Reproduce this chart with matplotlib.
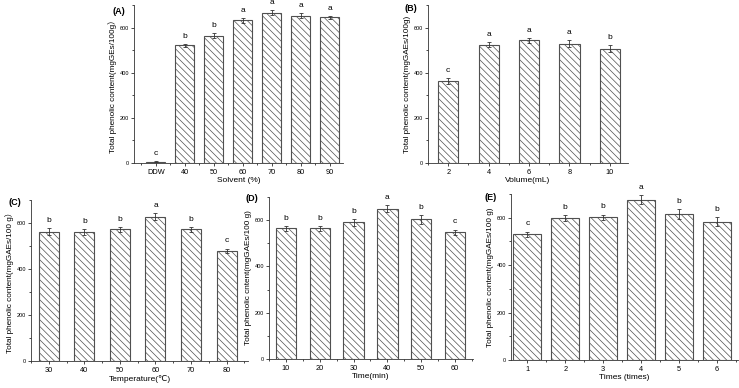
import numpy as np
import matplotlib
matplotlib.use("Agg")
import matplotlib.pyplot as plt
from matplotlib.ticker import MultipleLocator

plt.rcParams['font.family'] = ['Liberation Sans', 'DejaVu Sans', 'Noto Sans CJK SC']
plt.rcParams['hatch.linewidth'] = 0.5
plt.rcParams['hatch.color'] = '#555555'

# (A) solvent
a_labels = ['DDW', '40', '50', '60', '70', '80', '90']
a_vals = [5, 521, 564, 632, 666, 653, 645]
a_err = [2, 8, 12, 10, 10, 12, 8]
a_sig = ['c', 'b', 'b', 'a', 'a', 'a', 'a']

# (B) volume
b_x = [2, 4, 6, 8, 10]
b_vals = [363, 525, 543, 529, 507]
b_err = [12, 12, 10, 14, 14]
b_sig = ['c', 'a', 'a', 'a', 'b']

# (C) temperature
c_labels = ['30', '40', '50', '60', '70', '80']
c_vals = [561, 561, 572, 627, 572, 479]
c_err = [15, 12, 12, 15, 12, 10]
c_sig = ['b', 'b', 'b', 'a', 'b', 'c']

# (D) time
d_labels = ['10', '20', '30', '40', '50', '60']
d_vals = [564, 564, 590, 650, 603, 547]
d_err = [12, 10, 15, 15, 18, 12]
d_sig = ['b', 'b', 'b', 'a', 'b', 'c']

# (E) times
e_labels = ['1', '2', '3', '4', '5', '6']
e_vals = [529, 598, 601, 676, 615, 583]
e_err = [12, 12, 12, 20, 20, 18]
e_sig = ['c', 'b', 'b', 'a', 'b', 'b']


def panel(ax, x, vals, err, sig, width, xlim, tag, tagpos, xlab, ylab):
    ax.bar(x, vals, width, yerr=err, color='white', edgecolor='#505050',
           linewidth=0.8, hatch='\\\\\\\\\\',
           error_kw=dict(ecolor='#333333', elinewidth=0.6, capsize=1.5, capthick=0.6))
    for xi, v, e, s in zip(x, vals, err, sig):
        ax.text(xi, v + e + 18, s, ha='center', va='bottom', fontsize=6)
    ax.set_xlim(*xlim)
    ax.set_ylim(0, 700)
    ax.yaxis.set_major_locator(MultipleLocator(200))
    ax.yaxis.set_minor_locator(MultipleLocator(100))
    for side in ['top', 'right']:
        ax.spines[side].set_visible(False)
    for side in ['left', 'bottom']:
        ax.spines[side].set_linewidth(0.6)
        ax.spines[side].set_color('#333333')
    ax.tick_params(axis='y', which='major', labelsize=4, length=2.5, width=0.5, pad=1)
    ax.tick_params(axis='y', which='minor', length=1.5, width=0.5)
    ax.tick_params(axis='x', which='major', labelsize=5.3, length=2.5, width=0.5, pad=1.5)
    ax.tick_params(axis='x', which='minor', length=1.5, width=0.5)
    ax.set_xlabel(xlab, fontsize=6, labelpad=1)
    ax.set_ylabel(ylab, fontsize=5.9, labelpad=2)
    ax.text(tagpos[0], tagpos[1], tag, transform=ax.transAxes, fontsize=6.5,
            fontweight='bold', ha='center', va='center')


fig = plt.figure(figsize=(7.39, 3.88), dpi=100)

axA = fig.add_axes([0.1813, 0.5799, 0.2828, 0.4072])
xa = np.arange(1, len(a_vals) + 1)
panel(axA, xa, a_vals, a_err, a_sig, 0.65, (0.25, 7.45), '(A)', (-0.07, 0.96),
      'Solvent (%)', 'Total phenolic content(mgGEs/100g\uff09')
axA.set_xticks(xa)
axA.set_xticklabels(a_labels)
axA.xaxis.set_minor_locator(MultipleLocator(0.5))

axB = fig.add_axes([0.5792, 0.5799, 0.2706, 0.4072])
panel(axB, b_x, b_vals, b_err, b_sig, 1.0, (1.0, 10.9), '(B)', (-0.085, 0.98),
      'Volume(mL)', 'Total phenolic content(mgGAEs/100g)')
axB.set_xticks(b_x)
axB.xaxis.set_minor_locator(MultipleLocator(1))

axC = fig.add_axes([0.0419, 0.0696, 0.2936, 0.415])
xc = np.arange(1, len(c_vals) + 1)
panel(axC, xc, c_vals, c_err, c_sig, 0.56, (0.5, 6.6), '(C)', (-0.075, 0.985),
      'Temperature(\u2103)', 'Total phenolic content(mgGAEs/100 g\uff09')
axC.set_xticks(xc)
axC.set_xticklabels(c_labels)
axC.xaxis.set_minor_locator(MultipleLocator(0.5))

axD = fig.add_axes([0.364, 0.0747, 0.276, 0.4175])
xd = np.arange(1, len(d_vals) + 1)
panel(axD, xd, d_vals, d_err, d_sig, 0.6, (0.5, 6.53), '(D)', (-0.085, 0.99),
      'Time(min)', 'Total phenolic cntent(mgGAEs/100 g)')
axD.set_xticks(xd)
axD.set_xticklabels(d_labels)
axD.xaxis.set_minor_locator(MultipleLocator(0.5))

axE = fig.add_axes([0.6915, 0.0722, 0.307, 0.428])
xe = np.arange(1, len(e_vals) + 1)
panel(axE, xe, e_vals, e_err, e_sig, 0.73, (0.57, 6.55), '(E)', (-0.09, 0.98),
      'Times (times)', 'Total phenolic content(mgGAEs/100 g)')
axE.set_xticks(xe)
axE.set_xticklabels(e_labels)
axE.xaxis.set_minor_locator(MultipleLocator(0.5))

fig.savefig('out.png', dpi=100)
